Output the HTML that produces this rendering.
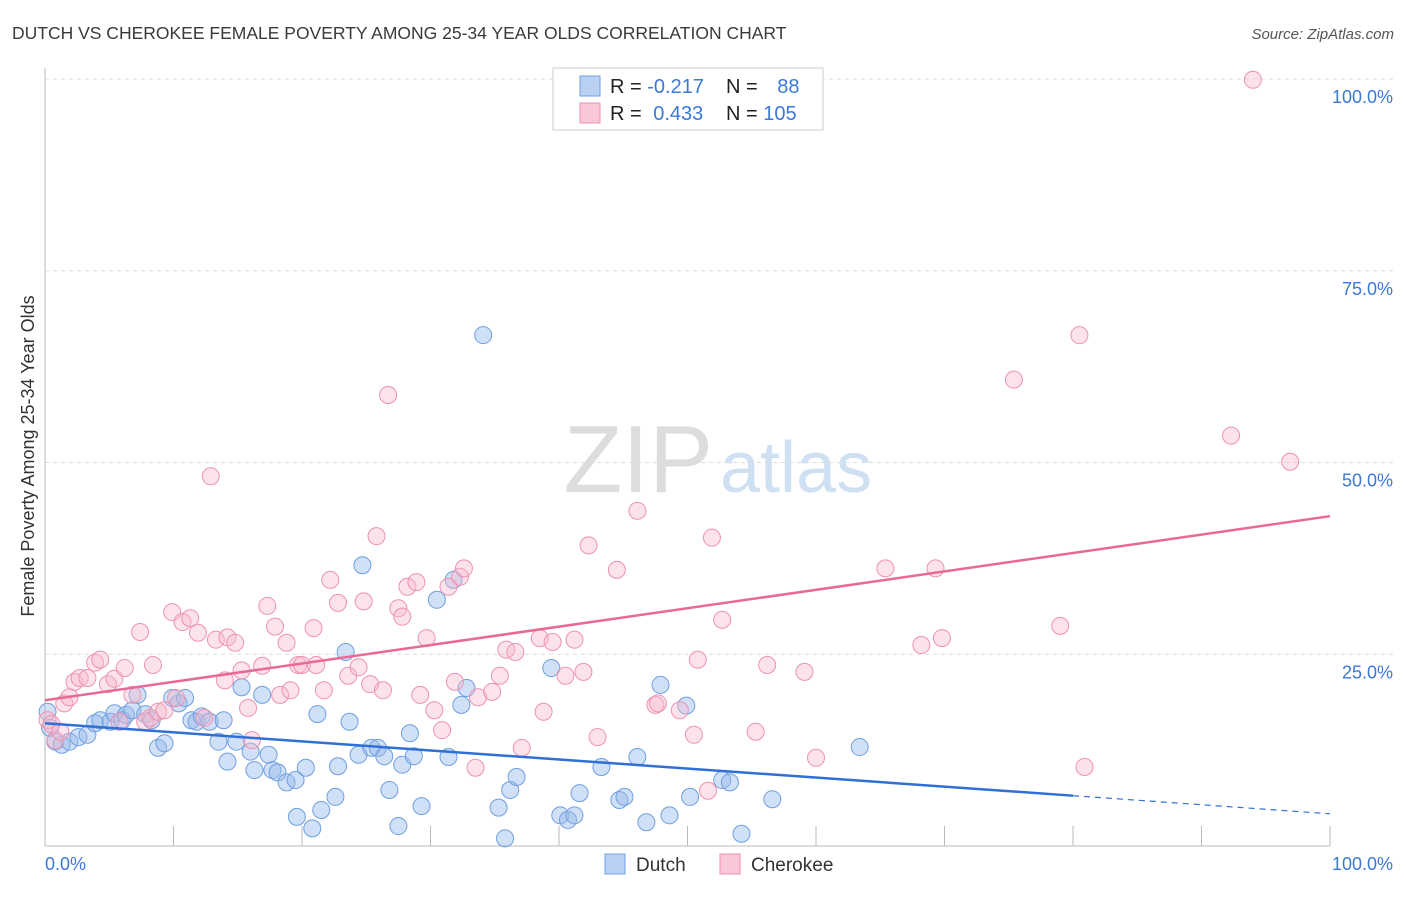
<!DOCTYPE html>
<html><head><meta charset="utf-8"><style>
body{margin:0;background:#fff;font-family:"Liberation Sans",sans-serif}
svg text{font-family:"Liberation Sans",sans-serif}
</style></head><body>
<svg id="chart" width="1406" height="892">
<text x="12" y="39" font-size="17.5" fill="#3a3a3a">DUTCH VS CHEROKEE FEMALE POVERTY AMONG 25-34 YEAR OLDS CORRELATION CHART</text>
<text x="1394" y="39" font-size="15" fill="#555" font-style="italic" text-anchor="end">Source: ZipAtlas.com</text>
<text x="713" y="492" font-size="96" fill="#ddd" font-family="Liberation Serif" text-anchor="end">ZIP</text>
<text x="720" y="492" font-size="72" fill="#cfe0f3">atlas</text>
<g id="grid"></g><g id="axes"></g><g id="dots"></g><g id="trends"></g>
<text transform="translate(34,456) rotate(-90)" font-size="18" fill="#333" text-anchor="middle">Female Poverty Among 25-34 Year Olds</text>
<text x="45" y="870" font-size="18" fill="#3b78d8">0.0%</text>
<text x="1393" y="870" font-size="18" fill="#3b78d8" text-anchor="end">100.0%</text>
<g>
<rect x="553" y="68" width="270" height="62" fill="#fff" stroke="#ccc"/>
<rect x="580" y="76" width="20" height="20" fill="#b9d1f3" stroke="#6f9fe0"/>
<rect x="580" y="103" width="20" height="20" fill="#f9c7d6" stroke="#ee92b0"/>
<text x="610" y="93" font-size="20" fill="#222">R = <tspan fill="#3b78d8">-0.217</tspan></text>
<text x="726" y="93" font-size="20" fill="#222">N = <tspan fill="#3b78d8" dx="14">88</tspan></text>
<text x="610" y="120" font-size="20" fill="#222">R = <tspan fill="#3b78d8" dx="6">0.433</tspan></text>
<text x="726" y="120" font-size="20" fill="#222">N = <tspan fill="#3b78d8">105</tspan></text>
</g>
<g>
<rect x="605" y="854" width="20" height="20" fill="#b9d1f3" stroke="#6f9fe0"/>
<text x="636" y="871" font-size="19" fill="#333">Dutch</text>
<rect x="720" y="854" width="20" height="20" fill="#f9c7d6" stroke="#ee92b0"/>
<text x="751" y="871" font-size="19" fill="#333">Cherokee</text>
</g>
</svg>
<script>
const yTicks=[25,50,75,100];
const yTickLabels=["25.0%","50.0%","75.0%","100.0%"];
const xTicks=[0,10,20,30,40,50,60,70,80,90,100];
const dutchX=[0.2,0.4,0.8,1.3,1.9,2.6,3.3,3.9,4.3,5.1,5.4,6,6.3,6.8,7.2,7.8,8.3,8.8,9.3,9.9,10.4,10.9,11.4,11.8,12.2,12.8,13.5,13.9,14.2,14.9,15.3,16,16.3,16.9,17.4,17.7,18.1,18.8,19.5,19.6,20.3,20.8,21.2,21.5,22.6,22.8,23.4,23.7,24.4,24.7,25.4,25.9,26.4,26.8,27.5,27.8,28.4,28.7,29.3,30.5,31.4,31.8,32.4,32.8,34.1,35.3,35.8,36.2,36.7,39.4,40.1,40.7,41.2,41.6,43.3,44.7,45.1,46.1,46.8,47.9,48.6,49.9,50.2,52.7,53.3,54.2,56.6,63.4];
const dutchY=[17.5,15.4,13.6,13.2,13.6,14.2,14.5,16,16.4,16.2,17.3,16.4,17.1,17.7,19.7,17.2,16.4,12.8,13.4,19.3,18.6,19.3,16.4,16.2,16.9,16.2,13.6,16.4,11,13.6,20.7,12.3,9.9,19.7,11.9,9.9,9.6,8.3,8.6,3.8,10.2,2.3,17.2,4.7,6.4,10.4,25.3,16.2,11.9,36.6,12.8,12.8,11.7,7.3,2.6,10.6,14.7,11.7,5.2,32.1,11.6,34.7,18.4,20.6,66.6,5,1,7.3,9,23.2,4,3.4,4,6.9,10.3,6,6.4,11.6,3.1,21,4,18.3,6.4,8.6,8.3,1.6,6.1,12.9];
const cheX=[0.2,0.5,0.8,1.2,1.5,1.9,2.3,2.7,3.3,3.9,4.3,4.9,5.4,5.8,6.2,6.8,7.4,7.8,8.2,8.4,8.8,9.3,9.9,10.2,10.7,11.3,11.9,12.4,12.9,13.3,14,14.2,14.8,15.3,15.8,16.1,16.9,17.3,17.9,18.3,18.8,19.1,19.7,20,20.9,21.1,21.7,22.2,22.8,23.6,24.4,24.8,25.3,25.8,26.3,26.7,27.5,27.8,28.2,28.9,29.2,29.7,30.3,30.9,31.4,31.9,32.3,32.6,33.5,33.7,34.8,35.4,35.9,36.6,37.1,38.5,38.8,39.5,40.5,41.2,41.9,42.3,43,44.5,46.1,47.5,47.7,49.4,50.5,50.8,51.9,52.7,51.6,55.3,56.2,59.1,60,65.4,68.2,69.3,69.8,75.4,79,80.5,80.9,92.3,94,96.9];
const cheY=[16.4,15.9,13.8,14.9,18.6,19.4,21.4,21.9,21.9,23.9,24.3,21.1,21.8,16.2,23.2,19.7,27.9,16.2,16.7,23.6,17.5,17.7,30.5,19.3,29.2,29.7,27.8,16.7,48.2,26.9,21.6,27.2,26.5,22.9,18,13.8,23.5,31.3,28.6,19.7,26.5,20.3,23.6,23.6,28.4,23.6,20.3,34.7,31.7,22.2,23.3,31.9,21.1,40.4,20.3,58.8,31,29.9,33.8,34.4,19.7,27.1,17.7,15.1,33.8,21.4,35.1,36.2,10.2,19.4,20.1,22.2,25.6,25.3,12.8,27.1,17.5,26.6,22.2,26.9,22.7,39.2,14.2,36,43.7,18.4,18.6,17.7,14.5,24.3,40.2,29.5,7.2,14.9,23.6,22.7,11.5,36.2,26.2,36.2,27.1,60.8,28.7,66.6,10.3,53.5,99.9,50.1];
const dutchTrend=[16.0,-0.118]; // intercept, slope
const cheTrend=[19.0,0.24];
const X=v=>45+v*12.85, Y=v=>846-v*7.67;
const NS="http://www.w3.org/2000/svg";
function mk(parent,tag,attrs){const e=document.createElementNS(NS,tag);for(const k in attrs)e.setAttribute(k,attrs[k]);document.getElementById(parent).appendChild(e);return e;}
yTicks.forEach((t,i)=>{
 const l=mk('grid','line',{x1:45,x2:1393,y1:Y(t),y2:Y(t),stroke:'#ddd','stroke-dasharray':'4,4'});
 
 
 const tx=mk('grid','text',{x:1393,y:Y(t)+24,'font-size':18,fill:'#3b78d8','text-anchor':'end'});
 tx.textContent=yTickLabels[i];
 
 
});
const ya=mk('axes','line',{x1:45,x2:45,y1:68,y2:846,stroke:'#bbb'});


const xa=mk('axes','line',{x1:45,x2:1330,y1:846,y2:846,stroke:'#bbb'});


xTicks.forEach(t=>{const l=mk('axes','line',{x1:X(t),x2:X(t),y1:826,y2:846,stroke:'#bbb'});
 
 });
dutchX.forEach((x,i)=>{const c=mk('dots','circle',{cx:X(x),cy:Y(dutchY[i]),r:8.5,fill:'rgba(150,186,236,0.45)',stroke:'#6f9fe0','stroke-width':1});
 
 });
cheX.forEach((x,i)=>{const c=mk('dots','circle',{cx:X(x),cy:Y(cheY[i]),r:8.5,fill:'rgba(247,184,204,0.4)',stroke:'#ee92b0','stroke-width':1});
 
 });
const f=(tr,x)=>tr[0]+tr[1]*x;
const d1=mk('trends','line',{x1:X(0),y1:Y(f(dutchTrend,0)),x2:X(80),y2:Y(f(dutchTrend,80)),stroke:'#2f6fd6','stroke-width':2.5});


const d2=mk('trends','line',{x1:X(80),y1:Y(f(dutchTrend,80)),x2:X(100),y2:Y(f(dutchTrend,100)),stroke:'#2f6fd6','stroke-width':1.2,'stroke-dasharray':'6,5'});


const c1=mk('trends','line',{x1:X(0),y1:Y(f(cheTrend,0)),x2:X(100),y2:Y(f(cheTrend,100)),stroke:'#e8689a','stroke-width':2.5});


</script>
</body></html>
